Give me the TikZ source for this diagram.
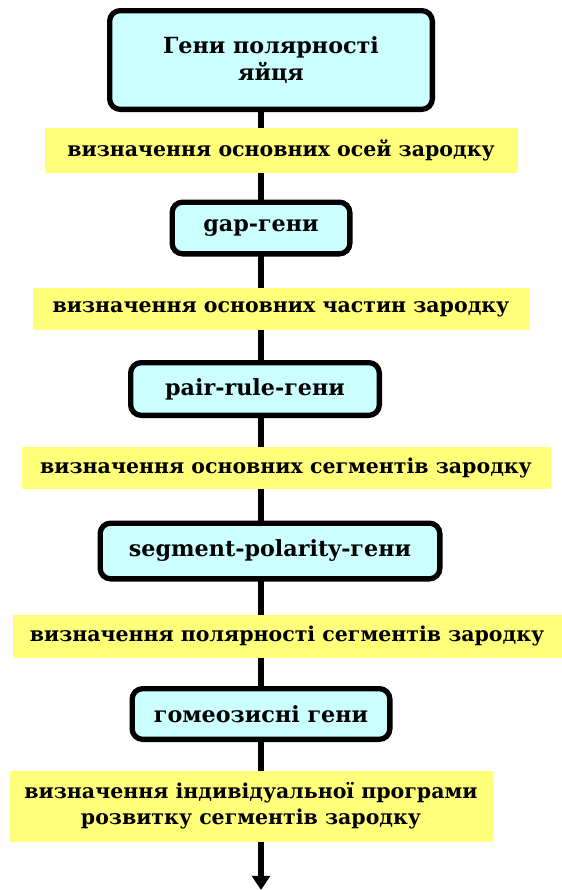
\documentclass[tikz,border=0pt]{standalone}
\usepackage{fontspec}
\setmainfont{DejaVu Serif}
\usetikzlibrary{arrows.meta,backgrounds}
\definecolor{genecyan}{RGB}{204,255,255}
\definecolor{stepyellow}{RGB}{255,255,122}

\begin{document}
\begin{tikzpicture}[
    x=0.03cm, y=-0.03cm,
    gene/.style={draw=black, fill=genecyan, line width=4.5pt, rounded corners=9pt,
        align=center, font=\bfseries\fontsize{19}{23}\selectfont},
    stepnote/.style={fill=stepyellow, inner sep=0pt, align=center,
        font=\bfseries\fontsize{17.5}{22}\selectfont},
    flow/.style={line width=5pt, -{Triangle[length=12pt,width=15pt]}}
]
\useasboundingbox (0,0) rectangle (562,890);

% gene boxes
\node[gene, minimum width=328*0.03cm-4.5pt, minimum height=104*0.03cm-4.5pt] (egg) at (271,60) {Гени полярності\\яйця};
\node[gene, minimum width=183*0.03cm-4.5pt, minimum height=57*0.03cm-4.5pt] (gap) at (261,228) {gap-гени};
\node[gene, minimum width=254*0.03cm-4.5pt, minimum height=58*0.03cm-4.5pt] (pair) at (255,389) {pair-rule-гени};
\node[gene, minimum width=345*0.03cm-4.5pt, minimum height=61*0.03cm-4.5pt] (segpol) at (270,551) {segment-polarity-гени};
\node[gene, minimum width=263*0.03cm-4.5pt, minimum height=56*0.03cm-4.5pt] (homeo) at (261,714) {гомеозисні гени};

% main axis, behind the boxes
\coordinate (tip) at (261,890);
\begin{pgfonlayer}{background}
\draw[flow] (egg.south -| tip) -- (tip);
\end{pgfonlayer}

% what each group defines
\node[stepnote, minimum width=473*0.03cm, minimum height=45*0.03cm] (axes) at (281,150) {визначення основних осей зародку};
\node[stepnote, minimum width=497*0.03cm, minimum height=42*0.03cm] (parts) at (281,309) {визначення основних частин зародку};
\node[stepnote, minimum width=529*0.03cm, minimum height=42*0.03cm] (segs) at (286,468) {визначення основних сегментів зародку};
\node[stepnote, minimum width=549*0.03cm, minimum height=43*0.03cm] (polar) at (287,636) {визначення полярності сегментів зародку};
\node[stepnote, minimum width=483*0.03cm, minimum height=71*0.03cm] (program) at (251,806) {визначення індивідуальної програми\\розвитку сегментів зародку};

\end{tikzpicture}
\end{document}
